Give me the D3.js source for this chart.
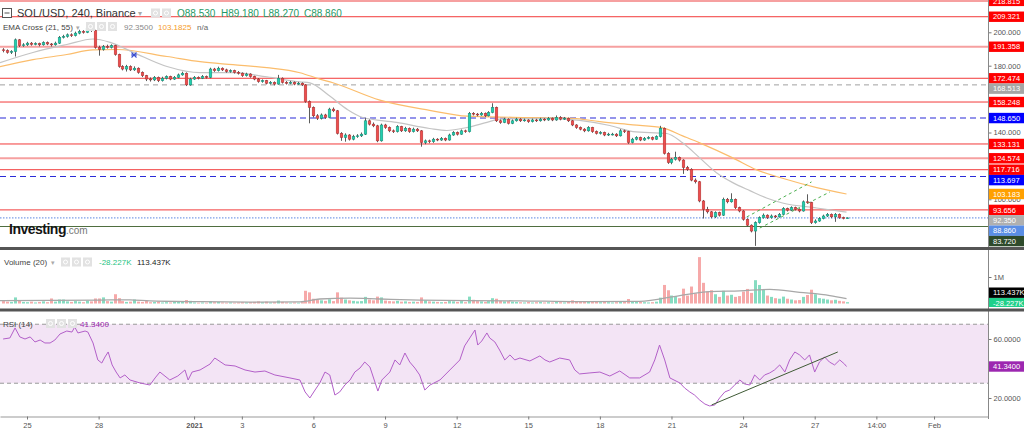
<!DOCTYPE html>
<html><head><meta charset="utf-8">
<script src="https://cdn.jsdelivr.net/npm/d3@7"></script>
<style>
body{margin:0;background:#fff;overflow:hidden}
svg{display:block;font-family:"Liberation Sans",Arial,sans-serif}
</style></head><body>
<svg id="c" width="1024" height="433"></svg>
<script>
// ---------- DATA ----------
const opens=[189.5,189,188,188.5,195.5,192,192.5,193.5,192.8,193.2,192.5,193.8,193,192.5,193.5,197,197.5,198.5,198,199.5,200.5,200,202.5,201,191,189.7,191.5,191,192,186.7,179.5,178,179.5,177.5,178.5,176,174,172,171.5,173,171,172.5,173.5,172,173,174.5,175.5,168.5,172,173,172.5,173.5,173,178,177,178.5,177.5,176.5,177,176,175.5,174,175,173.5,172,170.5,171,169.5,170,169,172.5,170,169.5,170,169,169.5,168.5,158.5,155,150,148.5,150.5,149,154,153,139.5,137,138.5,136,137.5,138,139,147,145,144,135,144.5,143,141,140.5,143.5,141,142.5,140.5,142,141,134,135,134.5,136,135.5,136.5,135.5,138.5,140,139,141,140.5,151.5,151,150.5,151.5,150,152,155,147,146,148,145.5,147,148,147,147.5,146.5,147.5,147,148,147.5,148.5,147.5,149,148,148.5,147,144.5,143,142,141,143,140.5,139.5,140,138.5,139,139,138,141,140.5,134,136,137,135.5,136.5,137,136,137.5,142.5,127.5,122,124,125,123.5,119,118,111.5,110.5,99,94,92.5,89.5,92,90.5,100,98.5,100,95,93,88,84.5,81,86,89,90.5,89,90,89.5,91,94.5,93.5,95,94,93,98.5,98,86,87,88.5,90,91,89.5,91,89,88.53];
const highs=[190.5,189.8,189.3,196.3,196,193.5,194.3,194.2,194,193.8,194.6,194.5,193.6,194.4,197.8,198.5,199.3,199.4,200.4,201.5,201.3,204.2,203.3,201.5,192,192.4,192.6,192.8,192.5,187.2,180.3,180.5,180.2,179.6,179,176.6,174.5,173,173.8,173.5,173.4,174.2,174,173.8,175.3,176.4,176,172.8,173.8,173.6,174.4,174.1,178.8,178.7,179.4,179,178.2,177.8,177.6,176.8,176,175.8,175.5,174,172.6,171.8,171.5,170.8,170.6,174.5,173,170.8,170.9,170.6,170.3,170,169,159.2,155.6,151,151.4,151.2,154.8,155,153.5,140.2,139.5,139,138.6,139,140,148.6,147.8,146,144.6,145.3,145.2,143.6,141.8,144.4,144,143.4,143,142.9,142.7,141.5,135.8,135.7,136.8,136.6,137.3,137,139.3,140.8,140.6,141.8,141.7,152.3,152.2,151.7,152.3,152,152.8,157.5,155.5,147.8,148.8,148.5,147.8,148.8,148.6,148.3,148,148.3,148.2,148.8,148.6,149.3,149,150.2,149.8,149.3,149,147.5,145,143.6,142.6,143.8,143.4,141.2,140.8,140.5,139.8,139.8,139.6,142,141.7,141,136.8,137.8,137.5,137.3,137.8,137.6,138.3,144,143,128.2,124.8,128.5,125.6,124,120,118.6,112.5,111,99.6,95.5,93,92.8,92.6,101,100.8,103.6,100.5,95.6,93.5,88.6,85,86.8,89.8,91.5,91,90.9,90.6,91.8,95.3,95,95.8,95.6,94.6,99.3,103,98.5,88,89.3,90.8,91.8,91.5,91.8,91.5,89.6,89.18];
const lows=[188,187.2,187,185.5,191.2,191.3,191.8,192,192.2,191.6,192,192.3,191.5,192,193,196.3,196.8,197.2,197.5,198.8,199.2,199.5,200.2,190.2,186,189,190.2,190.3,186,178.8,177.2,176.5,176.8,176.9,175.2,173.2,170.8,170.5,170.8,170.2,170.5,171.8,171.3,171.5,172.5,174,167.8,168,171.5,171.8,172,172.3,172.5,176.3,176.5,176.8,175.8,175.8,175.3,174.7,173.3,173.5,172.8,171.3,169.8,169.8,168.8,168.8,168.2,168.6,169.3,168.7,168.9,168.3,168.5,167.8,157.8,145.5,149,147.5,147.8,148.2,148.5,152.2,138.8,135,134.5,135.2,135.3,136.8,137.3,138.5,144.2,143.2,134.2,134.5,142.2,140.2,139.7,140,140.3,140.4,139.8,140,140.3,131.5,133,133.6,133.8,134.8,135,134.8,135.1,138,138.2,138.6,139.8,140,150.2,149.7,150,149.3,149.6,151.5,146.3,145.2,145.6,144.8,145,146.5,146.3,146.5,145.8,146,146.3,146.5,146.8,147,146.8,147,147.3,147.5,146.3,143.8,142.2,141.3,140.2,140.5,139.8,138.8,138.8,137.8,137.9,138.2,137.3,137.6,139.7,133.2,133.5,135.3,134.8,135,135.9,135.3,135.6,137,126.8,121.2,121,123.2,122.6,115.2,117,110.8,109.5,98.2,88.5,91.5,88.6,88.8,89.7,90,97.6,98,94.2,92.2,87.2,83.7,80.2,72.1,85.4,88.4,88.2,88.4,88.8,89,90.6,92.7,93,93.3,92.2,92.6,97.3,85.2,85.4,86.5,88,89.4,88.7,86.5,88.3,88,88.27];
const closes=[189,188,188.5,195.5,192,192.5,193.5,192.8,193.2,192.5,193.8,193,192.5,193.5,197,197.5,198.5,198,199.5,200.5,200,202.5,201,191,189.7,191.5,191,192,186.7,179.5,178,179.5,177.5,178.5,176,174,172,171.5,173,171,172.5,173.5,172,173,174.5,175.5,168.5,172,173,172.5,173.5,173,178,177,178.5,177.5,176.5,177,176,175.5,174,175,173.5,172,170.5,171,169.5,170,169,172.5,170,169.5,170,169,169.5,168.5,158.5,155,150,148.5,150.5,149,154,153,139.5,137,138.5,136,137.5,138,139,147,145,144,135,144.5,143,141,140.5,143.5,141,142.5,140.5,142,141,134,135,134.5,136,135.5,136.5,135.5,138.5,140,139,141,140.5,151.5,151,150.5,151.5,150,152,155,147,146,148,145.5,147,148,147,147.5,146.5,147.5,147,148,147.5,148.5,147.5,149,148,148.5,147,144.5,143,142,141,143,140.5,139.5,140,138.5,139,139,138,141,140.5,134,136,137,135.5,136.5,137,136,137.5,142.5,127.5,122,124,125,123.5,119,118,111.5,110.5,99,94,92.5,89.5,92,90.5,100,98.5,100,95,93,88,84.5,81,86,89,90.5,89,90,89.5,91,94.5,93.5,95,94,93,98.5,98,86,87,88.5,90,91,89.5,91,89,88.53,88.86];
// volume in thousands
const volumes=[90,70,60,230,120,60,50,70,40,60,80,50,190,70,150,150,80,60,90,70,50,110,80,190,190,230,90,70,350,200,90,60,70,150,70,60,110,50,60,80,40,50,40,60,70,90,130,100,40,30,40,30,90,50,60,40,30,40,30,40,50,40,50,60,80,50,70,40,50,110,60,40,30,40,30,50,480,420,180,130,120,100,160,90,420,220,150,120,100,80,90,250,150,120,260,230,110,90,80,100,70,80,60,70,60,230,120,80,70,60,50,60,90,80,60,90,50,260,140,90,80,60,90,200,180,100,80,90,70,60,50,40,60,40,50,60,40,50,40,70,50,40,60,120,90,70,60,80,90,60,50,70,50,40,50,90,60,170,90,70,60,50,40,50,70,220,700,500,300,280,200,560,300,640,380,1750,780,450,500,350,250,480,300,330,250,280,450,550,400,880,700,520,300,250,200,180,260,180,150,120,130,250,320,520,350,200,180,150,120,140,100,80,50];
// indicator lines (position in 4h candles, value)
const ema21At=[-0.8,7.5,16,22.6,26.9,32.7,41.2,49.5,57.8,66.3,74.6,77.1,82.1,86.4,90.4,98.9,107.2,111.5,116.6,121.6,124.8,136.7,144.9,152.5,158.3,166.8,170.8,175.1,179.4,183.4,187.7,191.9,195.9,204.5,212];
const ema21Values=[181.8,187.9,192.7,196,194,188,179.5,175.8,175.8,173.3,170.3,169.7,161.8,154,149,146.1,142.4,141.2,143,146.1,148,148.5,147.3,144.2,140.5,139.4,133.8,124.8,115.8,110,105.2,100.8,97.8,94.8,92.35];
const ema55At=[-0.8,7.5,16,22.6,28.6,41.2,49.5,57.8,66.3,74.6,79.6,82.9,94.7,107.2,116.6,128.1,143.2,150,158.3,165.8,170.8,175.1,183.4,189.4,195.9,204.5,212];
const ema55Values=[179.4,183.6,186.7,189.5,189.7,185.5,182.4,180.6,178.8,175.8,172,169.8,159.4,153.3,149.8,149.1,148.5,146.5,144.6,142.8,138,133.8,124.8,117.6,112.6,107,103.18];
const volMaAt=[-0.8,24.3,31.9,36.9,49.5,62,74.6,79.6,87.2,94.7,104.7,117.3,129.9,144.9,160,170.1,177.6,185.2,192.7,200.2,207.8,212];
const volMaValues=[110,130,140,100,70,55,60,170,200,170,130,110,100,70,80,300,450,480,530,420,300,180];
const rsiAt=[0,1.7,3,4.2,5.5,6.8,8,9.3,10.5,11.8,13,14.3,16,17.3,18,18.8,20.6,21.3,22.6,23.8,24.8,25.6,26.4,27.4,28.4,29.4,30.6,31.9,34.4,36.9,38.2,39.4,41.9,43.9,45.7,46.5,47.5,49.5,52,53.2,55.8,58.3,60.8,63.3,65.8,68.3,72.1,74.6,75.9,77.1,78.4,79.6,80.9,82.1,83.4,84.6,85.9,87.2,88.4,89.7,90.9,92.2,94.2,95.2,97.2,98.5,99.7,101,102.2,103.5,104.7,106,107.3,109.8,112.3,114.8,116,117.3,118.6,119.3,120.3,121.6,122.3,123.6,124.8,126.1,127.4,128.6,129.9,132.4,134.9,136.2,137.4,139.9,142.4,143.7,144.9,147.5,150,152.5,155,157.5,160,162.5,163.8,165,166.3,167.6,170.1,171.3,172.6,173.8,175.1,176.4,177.6,178.9,180.1,181.4,182.6,183.9,185.2,186.4,187.7,188.9,190.2,191.4,192.7,193.9,195.2,196.5,197.7,199,200.2,201.5,202.7,204,205.2,206.5,207.7,209,210.3,211.5,212];
const rsiValues=[60,60.7,67.5,61.4,60,61.4,58,59.3,57.3,57.3,59.3,63.4,65.4,64.7,68.1,64.1,65.4,64.7,57.3,45.8,43.7,47.8,51.2,42.4,37.6,33.6,35.6,32.2,30.2,28.8,33.6,37.6,32.2,34.9,39,32.2,37.6,39,43,47.1,42.4,41.7,39,37.6,38.3,35.6,33.6,32.2,24.1,20,25.4,30.2,37.6,35.6,22,24.1,28.8,32.2,37.6,40.3,44.4,41,24.7,32.2,37.6,45.8,42.4,50.5,44.4,40.3,35.6,25.4,28.8,32.2,39,45.8,55.3,60.7,66.1,55.9,58.6,64.1,60.7,58,52.5,45.8,49.2,45.8,47.1,45.1,48.5,45.8,44.4,47.1,45.8,39,36.3,37,37.6,34.9,38.3,33.6,33.6,37.6,45.8,55.9,45.8,33.6,30.2,26.8,24.1,22,18.6,15.9,14.6,15.3,20,24.1,25.4,28.8,32.2,29.5,28.8,35.6,32.2,35.6,37,39,42.4,37.6,45.8,51.2,49.2,45.8,49.2,37.6,44.4,47.8,44.4,42.4,45.8,43,41.34];
// drawings
const rsiTrendAt=[178.1,209.8], rsiTrendValues=[15.3,51.2];
const channelAAt=[186.9,203.2], channelAValues=[89.4,110.4];
const channelBAt=[190.2,207.8], channelBValues=[82.8,104.4];
const crossAt=32.9, crossValue=186.4;
const levelValues=[218.815,209.321,191.358,172.474,168.513,158.248,148.650,133.131,124.574,117.716,113.697,93.656,88.860,83.720];
const levelKinds=["pink","red","pink","red","grayDash","red","blueDash","red","pink","red","blueDash","red","blueDot","green"];
const labelValues=[218.815,209.321,191.358,172.474,168.513,158.248,148.650,133.131,124.574,117.716,113.697,103.183,93.656,92.350,88.860,83.720];
const labelColors=["#ff0000","#ff0000","#ff0000","#ff0000","#a6a6a6","#ff0000","#0000ff","#ff0000","#ff0000","#ff0000","#0000ff","#ffa000","#ff0000","#b0b0b0","#5a8ee6","#2e4a2b"];
const priceTicks=[80,100,120,140,160,180,200];
const rsiTicks=[20,60];
const volTicks=[1000];
const tickDates=["2020-12-25T00:00Z","2020-12-28T00:00Z","2021-01-01T00:00Z","2021-01-03T00:00Z","2021-01-06T00:00Z","2021-01-09T00:00Z","2021-01-12T00:00Z","2021-01-15T00:00Z","2021-01-18T00:00Z","2021-01-21T00:00Z","2021-01-24T00:00Z","2021-01-27T00:00Z","2021-01-29T14:00Z","2021-02-01T00:00Z"];
const tickLabels=["25","28","2021","3","6","9","12","15","18","21","24","27","14:00","Feb"];

// ---------- LAYOUT ----------
const svg=d3.select("#c");
const PR=988;
const P={top:0,bottom:247}, V={top:250,bottom:308}, R={top:311.5,bottom:416};
const t0=Date.UTC(2020,11,24), H4=4*3600e3;
const tOf=i=>new Date(t0+i*H4);
const x=d3.scaleUtc().domain([new Date(Date.UTC(2020,11,23,20,51)),new Date(Date.UTC(2021,1,3,6,15))]).range([0,PR]);
const y=d3.scaleLinear().domain([71.44,219.34]).range([P.bottom,P.top]);
const yv=d3.scaleLinear().domain([0,1000]).range([303.5,277]);
const yr=d3.scaleLinear().domain([11.86,78.3]).range([410,312]);

const defs=svg.append("defs");
[["clipP",P],["clipV",V],["clipR",R]].forEach(([id,p])=>{
  defs.append("clipPath").attr("id",id).append("rect").attr("x",0).attr("y",p.top).attr("width",PR).attr("height",p.bottom-p.top);
});
defs.append("clipPath").attr("id","clipVL").append("rect").attr("x",PR).attr("y",V.top).attr("width",1024-PR).attr("height",V.bottom-V.top-1);
svg.append("rect").attr("width",1024).attr("height",433).attr("fill","#fff");

// ---------- PRICE PANEL ----------
const gp=svg.append("g").attr("clip-path","url(#clipP)");
const styles={red:{c:"#f23a3a",w:1,d:null},pink:{c:"#f6a0a0",w:2.2,d:null},grayDash:{c:"#a0a0a0",w:1,d:"5,4"},
  blueDash:{c:"#2b2bd8",w:1.1,d:"6,4"},blueDot:{c:"#5a86e0",w:1,d:"1.5,1.5"},green:{c:"#4f6e3f",w:1.2,d:null}};
gp.selectAll("line.lvl").data(levelValues).join("line").attr("class","lvl")
  .attr("x1",0).attr("x2",PR).attr("y1",d=>y(d)).attr("y2",d=>y(d))
  .attr("stroke",(d,i)=>styles[levelKinds[i]].c).attr("stroke-width",(d,i)=>styles[levelKinds[i]].w)
  .attr("stroke-dasharray",(d,i)=>styles[levelKinds[i]].d);

const lineP=d3.line().x(d=>x(tOf(d[0]))).y(d=>y(d[1])).curve(d3.curveMonotoneX);
gp.append("path").attr("d",lineP(ema55At.map((a,i)=>[a,ema55Values[i]]))).attr("fill","none").attr("stroke","#fbbd6c").attr("stroke-width",1.2);
gp.append("path").attr("d",lineP(ema21At.map((a,i)=>[a,ema21Values[i]]))).attr("fill","none").attr("stroke","#c4c4c4").attr("stroke-width",1.2);

// channel drawing
const lineS=d3.line().x(d=>x(tOf(d[0]))).y(d=>y(d[1]));
[[channelAAt,channelAValues],[channelBAt,channelBValues]].forEach(([a,v])=>{
  gp.append("path").attr("d",lineS(a.map((t,i)=>[t,v[i]]))).attr("stroke","#4caf50").attr("stroke-width",1).attr("stroke-dasharray","3,3").attr("fill","none");
});

const idx=d3.range(closes.length);
const cw=2.6;
gp.selectAll("line.wick").data(idx).join("line").attr("class","wick")
  .attr("x1",i=>Math.round(x(tOf(i)))+0.5).attr("x2",i=>Math.round(x(tOf(i)))+0.5)
  .attr("y1",i=>y(highs[i])).attr("y2",i=>y(lows[i])).attr("stroke","#4a4a4a").attr("stroke-width",0.9);
gp.selectAll("rect.body").data(idx).join("rect").attr("class","body")
  .attr("x",i=>Math.round(x(tOf(i)))+0.5-cw/2).attr("width",cw)
  .attr("y",i=>y(Math.max(opens[i],closes[i])))
  .attr("height",i=>Math.max(0.8,y(Math.min(opens[i],closes[i]))-y(Math.max(opens[i],closes[i]))))
  .attr("fill",i=>closes[i]>=opens[i]?"#22cfae":"#ee4d4d")
  .attr("stroke",i=>closes[i]>=opens[i]?"#178a74":"#a83232").attr("stroke-width",0.5);

// EMA cross marker
const cxm=x(tOf(crossAt)), cym=y(crossValue);
gp.append("path").attr("d",`M${cxm-2.5},${cym-2.5}L${cxm+2.5},${cym+2.5}M${cxm-2.5},${cym+2.5}L${cxm+2.5},${cym-2.5}M${cxm-3},${cym}L${cxm+3},${cym}`)
  .attr("stroke","#3b4fd0").attr("stroke-width",1.1);

// Investing logo
const logo=svg.append("text").attr("x",9).attr("y",234).attr("font-size",14).attr("font-weight","bold").attr("fill","#151515").attr("letter-spacing","-0.5");
logo.append("tspan").text("Investing");
logo.append("tspan").attr("font-size",10).attr("font-weight","normal").attr("fill","#777").attr("letter-spacing","0").text(".com");

// ---------- VOLUME PANEL ----------
const gv=svg.append("g").attr("clip-path","url(#clipV)");
gv.selectAll("rect.vol").data(idx).join("rect").attr("class","vol")
  .attr("x",i=>Math.round(x(tOf(i)))+0.5-1.5).attr("width",3)
  .attr("y",i=>yv(volumes[i])).attr("height",i=>yv(0)-yv(volumes[i]))
  .attr("fill",i=>closes[i]>=opens[i]?"#86dcc1":"#f6a9a9");
const lineV=d3.line().x(d=>x(tOf(d[0]))).y(d=>yv(d[1])).curve(d3.curveMonotoneX);
gv.append("path").attr("d",lineV(volMaAt.map((a,i)=>[a,volMaValues[i]]))).attr("fill","none").attr("stroke","#a8a8a8").attr("stroke-width",1.3);

// ---------- RSI PANEL ----------
const gr=svg.append("g").attr("clip-path","url(#clipR)");
gr.append("rect").attr("x",0).attr("width",PR).attr("y",yr(70)).attr("height",yr(30)-yr(70)).attr("fill","#f3e4f5");
[70,30].forEach(v=>gr.append("line").attr("x1",0).attr("x2",PR).attr("y1",yr(v)).attr("y2",yr(v)).attr("stroke","#9a9a9a").attr("stroke-dasharray","4,3"));
const lineR=d3.line().x(d=>x(tOf(d[0]))).y(d=>yr(d[1]));
gr.append("path").attr("d",lineR(rsiAt.map((a,i)=>[a,rsiValues[i]]))).attr("fill","none").attr("stroke","#b25fc8").attr("stroke-width",1);
gr.append("path").attr("d",lineR(rsiTrendAt.map((a,i)=>[a,rsiTrendValues[i]]))).attr("fill","none").attr("stroke","#3f5a35").attr("stroke-width",1);

// ---------- AXES ----------
const LH=10.4;
let lab=labelValues.map((v,i)=>({v,c:labelColors[i],y:y(v)})).sort((a,b)=>a.y-b.y);
for(let k=1;k<lab.length;k++) if(lab[k].y<lab[k-1].y+LH) lab[k].y=lab[k-1].y+LH;
// tick labels fully hidden behind a price label are not drawn (as on the reference)
const shownTicks=priceTicks.filter(t=>!lab.some(l=>Math.abs(l.y-y(t))<4.5));

const axisStyle=g=>{g.select(".domain").remove();g.selectAll("line").attr("stroke","#777");g.selectAll("text").attr("fill","#555").attr("font-size",7.5).attr("font-family","Liberation Sans, Arial");};
svg.append("g").attr("transform",`translate(${PR+0.5},0)`).call(d3.axisRight(y).tickValues(shownTicks).tickFormat(d3.format(".3f")).tickSize(3).tickPadding(2)).call(axisStyle);
svg.append("g").attr("transform",`translate(${PR+0.5},0)`).call(d3.axisRight(yv).tickValues(volTicks).tickFormat(()=> "1M").tickSize(3).tickPadding(2)).call(axisStyle);
svg.append("g").attr("transform",`translate(${PR+0.5},0)`).call(d3.axisRight(yr).tickValues(rsiTicks).tickFormat(d3.format(".4f")).tickSize(3).tickPadding(2)).call(axisStyle);
const xa=svg.append("g").attr("transform",`translate(0,${R.bottom+0.5})`)
  .call(d3.axisBottom(x).tickValues(tickDates.map(d=>d3.isoParse(d))).tickFormat((d,i)=>tickLabels[i]).tickSize(3).tickSizeOuter(0).tickPadding(3));
xa.select(".domain").attr("stroke","#999");
xa.selectAll("line").attr("stroke","#777");
xa.selectAll("text").attr("fill","#555").attr("font-size",7.5).attr("font-weight",(d,i)=>tickLabels[i]==="2021"?"bold":"normal");

svg.append("line").attr("x1",PR+0.5).attr("x2",PR+0.5).attr("y1",0).attr("y2",R.bottom+3).attr("stroke","#888");

const drawLabel=(yy,txt,bg,fg,clip)=>{
  const g=svg.append("g"); if(clip) g.attr("clip-path",clip);
  g.append("rect").attr("x",PR+1).attr("y",yy-LH/2).attr("width",1024-PR-1).attr("height",LH).attr("fill",bg);
  g.append("text").attr("x",PR+5).attr("y",yy).attr("dy","0.35em").attr("font-size",7.5).attr("fill",fg).text(txt);
};
lab.forEach(l=>drawLabel(l.y,d3.format(".3f")(l.v),l.c,"#fff"));
drawLabel(292.7,"113.437K","#000","#fff");
drawLabel(303.2,"-28.227K","#1fd08a","#fff","url(#clipVL)");
drawLabel(yr(41.34),"41.3400","#9c27b0","#fff");

// separators
svg.append("rect").attr("x",0).attr("y",247).attr("width",1024).attr("height",3).attr("fill","#555");
svg.append("rect").attr("x",0).attr("y",308.5).attr("width",1024).attr("height",3).attr("fill","#555");

// ---------- LEGENDS ----------
const icon=(ix,iy)=>{svg.append("rect").attr("x",ix).attr("y",iy).attr("width",9).attr("height",9).attr("fill","#e2e2e2");
  svg.append("circle").attr("cx",ix+4.5).attr("cy",iy+4.5).attr("r",2).attr("fill","none").attr("stroke","#fff").attr("stroke-width",1);};
const txt=(tx,ty,s,size,fill)=>svg.append("text").attr("x",tx).attr("y",ty).attr("font-size",size).attr("fill",fill).text(s);
// header
svg.append("rect").attr("x",2.5).attr("y",8.5).attr("width",9).attr("height",9).attr("fill","#fff").attr("stroke","#555");
svg.append("line").attr("x1",4.5).attr("x2",9.5).attr("y1",13).attr("y2",13).attr("stroke","#555");
txt(17,17,"SOL/USD, 240, Binance",11,"#333");
txt(138,16,"▾",8,"#aaa");
icon(151,8.5); icon(162,8.5);
[["O88.530",177],["H89.180",221],["L88.270",263],["C88.860",304]].forEach(([s,px])=>txt(px,17,s,10,"#1f9a66"));
// EMA
txt(3,30,"EMA Cross (21, 55)",8,"#444");
txt(76,30,"▾",7,"#aaa");
icon(86,22); icon(97,22); icon(108,22);
txt(124,30,"92.3500",8,"#888");
txt(158,30,"103.1825",8,"#f59c2a");
txt(197,30,"n/a",8,"#666");
// Volume
txt(4,265,"Volume (20)",8,"#444");
txt(51,265,"▾",7,"#aaa");
icon(61,257.5); icon(72,257.5); icon(83,257.5);
txt(99,265,"-28.227K",8,"#1fc483");
txt(137,265,"113.437K",8,"#222");
// RSI
txt(3,326.5,"RSI (14)",8,"#444");
icon(46,319); icon(57,319); icon(68,319);
txt(80,326.5,"41.3400",8,"#9c27b0");
</script>
</body></html>
